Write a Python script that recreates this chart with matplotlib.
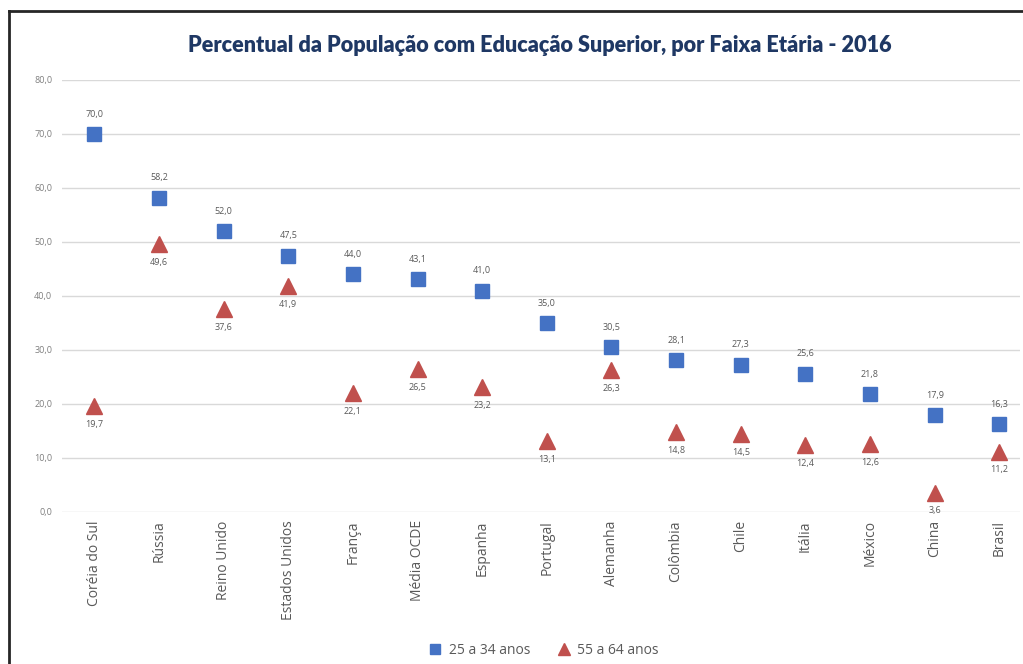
import matplotlib.pyplot as plt
from matplotlib.lines import Line2D

# Percentage of population with tertiary education, by age group - 2016
countries = [
    "Coréia do Sul", "Rússia", "Reino Unido", "Estados Unidos", "França",
    "Média OCDE", "Espanha", "Portugal", "Alemanha", "Colômbia", "Chile",
    "Itália", "México", "China", "Brasil",
]
age_25_34 = [70.0, 58.2, 52.0, 47.5, 44.0, 43.1, 41.0, 35.0, 30.5, 28.1,
             27.3, 25.6, 21.8, 17.9, 16.3]
age_55_64 = [19.7, 49.6, 37.6, 41.9, 22.1, 26.5, 23.2, 13.1, 26.3, 14.8,
             14.5, 12.4, 12.6, 3.6, 11.2]
y_ticks = [0, 10, 20, 30, 40, 50, 60, 70, 80]

blue = "#4472C4"
red = "#C0504D"
text_grey = "#595959"

W, H = 1023, 664
fig = plt.figure(figsize=(W / 100, H / 100), dpi=100)
fig.patch.set_facecolor("white")

# axes in pixel terms: left 62, right 1020, bottom 512, top 80
ax = fig.add_axes([62 / W, (H - 512) / H, (1020 - 62) / W, (512 - 80) / H])

x = list(range(len(countries)))
ax.plot(x, age_25_34, linestyle="none", marker="s", markersize=10,
        color=blue, label="25 a 34 anos", zorder=3)
ax.plot(x, age_55_64, linestyle="none", marker="^", markersize=11,
        color=red, label="55 a 64 anos", zorder=3)

def fmt(v):
    return f"{v:.1f}".replace(".", ",")

for xi, v in zip(x, age_25_34):
    ax.annotate(fmt(v), (xi, v), xytext=(0, 11), textcoords="offset points",
                ha="center", va="bottom", fontsize=6.5, color=text_grey,
                family="Open Sans")
for xi, v in zip(x, age_55_64):
    ax.annotate(fmt(v), (xi, v), xytext=(0, -10), textcoords="offset points",
                ha="center", va="top", fontsize=6.5, color=text_grey,
                family="Open Sans")

ax.set_xlim(-0.5, 14.32)
ax.set_ylim(0, 80)
ax.set_yticks(y_ticks)
ax.set_yticklabels([fmt(t) for t in y_ticks], fontsize=6.5, color="#7F7F7F",
                   family="Open Sans")
ax.set_xticks(x)
ax.set_xticklabels(countries, rotation=90, fontsize=10, color=text_grey,
                   family="Open Sans")
ax.tick_params(axis="both", length=0)
ax.tick_params(axis="y", pad=7)
ax.tick_params(axis="x", pad=6)
ax.grid(axis="y", color="#D9D9D9", linewidth=1)
ax.set_axisbelow(True)
for s in ax.spines.values():
    s.set_visible(False)

fig.text(540 / W, 1 - 45 / H,
         "Percentual da População com Educação Superior, por Faixa Etária - 2016",
         ha="center", va="center", fontsize=15.6, fontweight="heavy",
         color="#1F3864", family="Lato")

fig.legend(loc="center", bbox_to_anchor=(540 / W, 1 - 650 / H), ncol=2,
           frameon=False, handletextpad=0.0, columnspacing=1.4,
           markerscale=0.75, labelcolor=text_grey,
           prop={"family": "Open Sans", "size": 10})

# frame lines on the left and top
fig.add_artist(Line2D([9 / W, 9 / W], [0, 1 - 11 / H], transform=fig.transFigure,
                      color="#262626", linewidth=2))
fig.add_artist(Line2D([9 / W, 1], [1 - 11 / H, 1 - 11 / H], transform=fig.transFigure,
                      color="#262626", linewidth=2))

fig.savefig("out.png", dpi=100)
